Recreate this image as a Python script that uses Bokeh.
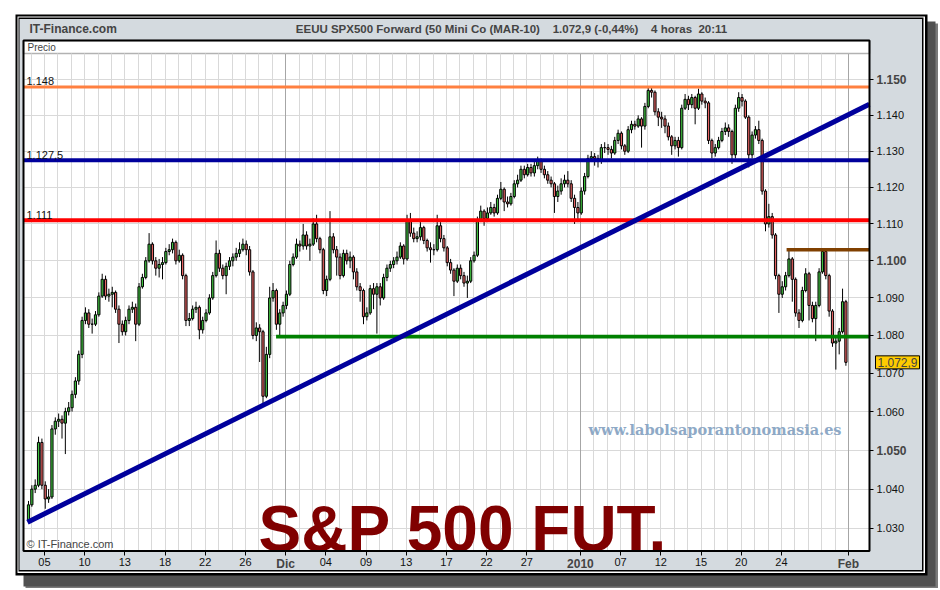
import math

import numpy as np
from bokeh.embed import file_html
from bokeh.models import BoxAnnotation, ColumnDataSource, FixedTicker, Grid, Label, Range1d
from bokeh.plotting import figure
from bokeh.resources import INLINE

FONT = "Liberation Sans"
UP = "#3fbf3f"
DOWN = "#e36161"
NAVY = "#00009c"
PANEL = "#d4dadf"

# ── 4-hour bars, S&P 500 mini future (MAR-10), Nov 2009 - Feb 2010 ──
first_open = 1032
closes = [
    1036, 1040, 1041, 1052, 1041, 1037.5, 1038, 1055.5, 1057.5, 1058,
    1057, 1060, 1061, 1064.5, 1068, 1075, 1084, 1086, 1083, 1083,
    1085.5, 1090.5, 1095, 1090.5, 1091, 1091.5, 1087, 1083, 1081, 1084,
    1087, 1087.5, 1083, 1093, 1095.5, 1100, 1104.5, 1100, 1098, 1099,
    1099.5, 1102.5, 1103, 1105, 1100, 1101.5, 1096, 1084, 1084.5, 1087,
    1087.5, 1081.5, 1084, 1086, 1090, 1096, 1102, 1098, 1096, 1098.5,
    1100, 1101, 1102, 1103, 1104.5, 1103, 1097, 1080, 1082, 1081,
    1064, 1075, 1090, 1092, 1083, 1086, 1088, 1091, 1099, 1101,
    1104.5, 1104, 1107, 1104, 1104.5, 1110, 1106, 1103, 1092, 1095,
    1106.5, 1103, 1101, 1096, 1102, 1100, 1101, 1097, 1093, 1092,
    1085, 1086, 1092.5, 1091, 1093, 1090, 1095.5, 1098, 1099, 1100,
    1101, 1104, 1100.5, 1111, 1107.5, 1106, 1106.5, 1109, 1105.5, 1103.5,
    1103, 1103, 1109.5, 1106, 1103.5, 1099.5, 1097.5, 1094.5, 1098, 1096,
    1094, 1094.5, 1100, 1101.5, 1111, 1113.5, 1111.5, 1113, 1114.5, 1113,
    1117, 1119.5, 1116, 1115.5, 1117.5, 1121, 1122, 1125, 1123.5, 1125.5,
    1124, 1126, 1127.5, 1125, 1123.5, 1122, 1121, 1117.5, 1119, 1121,
    1122, 1121, 1117, 1114.5, 1113, 1119, 1123, 1128, 1128.5, 1128,
    1127.5, 1131, 1131, 1130.5, 1129.5, 1133, 1135, 1131.5, 1130, 1136,
    1137.5, 1137, 1139, 1137, 1142.5, 1147, 1146.5, 1141, 1139.5, 1139,
    1137, 1134, 1131.5, 1133, 1131, 1142, 1144.5, 1143, 1145, 1142,
    1146, 1144, 1143.5, 1133, 1129.5, 1131, 1133, 1135.5, 1136.5, 1135.5,
    1129, 1142, 1145, 1144, 1139.5, 1129, 1134.5, 1136, 1133, 1119,
    1110, 1112, 1107, 1096, 1091, 1093, 1096, 1100.5, 1095, 1086,
    1084, 1092, 1096.5, 1088, 1084.5, 1088, 1097, 1102.5, 1096, 1086.5,
    1078, 1078.5, 1081, 1089, 1072.9,
]
highs = [
    1037, 1041, 1042.5, 1053.5, 1053, 1042, 1040, 1056.5, 1058.5, 1059.5,
    1059, 1061, 1062.5, 1065.5, 1069, 1076, 1085, 1087.5, 1087, 1084.5,
    1086.5, 1091.5, 1096.5, 1096, 1092.5, 1093, 1092, 1088, 1084, 1085,
    1088, 1089, 1088.5, 1094, 1096.5, 1101, 1107.5, 1105, 1101, 1100.5,
    1101, 1103.5, 1104.5, 1106, 1105.5, 1103, 1102, 1096.5, 1086, 1088,
    1089, 1088, 1085, 1087, 1091, 1097, 1105.5, 1103, 1099, 1099.5,
    1101, 1102, 1103.5, 1105, 1106, 1105.5, 1104, 1097.5, 1083.5, 1083,
    1081.5, 1077, 1093, 1094, 1092.5, 1087, 1089, 1092, 1100, 1102,
    1106, 1105.5, 1110, 1108, 1106, 1111.5, 1112.5, 1106.5, 1103.5, 1096,
    1113.5, 1107.5, 1104, 1102, 1103, 1103, 1102.5, 1101.5, 1098, 1094,
    1092.5, 1087.5, 1093.5, 1094, 1094, 1094, 1096.5, 1099, 1100, 1101,
    1102.5, 1105, 1104.5, 1112.5, 1113, 1109, 1108, 1110.5, 1109.5, 1106,
    1105, 1104.5, 1112.5, 1110.5, 1107, 1104, 1100.5, 1098, 1099, 1099,
    1097, 1096, 1101, 1102.5, 1112, 1115, 1114, 1114.5, 1116, 1115.5,
    1118, 1121.5, 1120, 1117.5, 1118.5, 1122, 1123.5, 1126, 1126, 1126.5,
    1126.5, 1127, 1128.5, 1128, 1126, 1124.5, 1123, 1121.5, 1120.5, 1122.5,
    1123.5, 1124.5, 1122, 1118, 1116, 1120, 1124, 1129, 1130, 1129.5,
    1129, 1132, 1132.5, 1132, 1131.5, 1134, 1136, 1135.5, 1132, 1137,
    1138.5, 1138.5, 1140, 1139.5, 1143.5, 1148, 1148, 1147, 1142, 1141,
    1140, 1138, 1134.5, 1134, 1134, 1143, 1146, 1145.5, 1146, 1145.5,
    1147.5, 1146.5, 1145, 1144, 1133.5, 1132, 1134, 1136.5, 1138, 1137.5,
    1136, 1143, 1146.5, 1146, 1144.5, 1140, 1135.5, 1137, 1138.5, 1133.5,
    1119.5, 1115.5, 1113, 1107.5, 1096.5, 1094.5, 1097, 1103, 1101, 1095.5,
    1087, 1093, 1098, 1097, 1089, 1089, 1098, 1103, 1103, 1096.5,
    1087, 1080, 1082, 1092.5, 1089.5,
]
lows = [
    1031.5, 1035.5, 1039, 1040.5, 1040, 1035, 1036.5, 1037.5, 1054, 1056,
    1053, 1049, 1059, 1060, 1063.5, 1067, 1074, 1083, 1082, 1080.5,
    1082.5, 1085, 1090, 1089.5, 1089, 1087.5, 1086, 1078, 1080, 1080,
    1083, 1086, 1078.5, 1082.5, 1092.5, 1095, 1099.5, 1099, 1096, 1095.5,
    1095, 1099, 1101.5, 1102, 1099, 1099.5, 1095, 1082.5, 1082.5, 1084,
    1086, 1079, 1080.5, 1083.5, 1085.5, 1089.5, 1095.5, 1097, 1095, 1091,
    1097.5, 1098.5, 1100, 1101, 1102.5, 1101.5, 1096, 1079, 1078.5, 1073,
    1062, 1063.5, 1074, 1089, 1081.5, 1080, 1085, 1087, 1090.5, 1098.5,
    1100.5, 1102.5, 1103, 1103, 1100, 1104, 1105, 1102, 1091, 1090.5,
    1094.5, 1102, 1096, 1095, 1095.5, 1099, 1098, 1095, 1092, 1089,
    1083, 1084, 1085.5, 1087, 1080.5, 1088, 1089.5, 1094.5, 1097, 1098,
    1099, 1100.5, 1099, 1100, 1106.5, 1105, 1105, 1105.5, 1104.5, 1102.5,
    1099.5, 1101.5, 1102.5, 1105, 1102.5, 1098.5, 1096.5, 1090.5, 1094, 1095,
    1093, 1090, 1094, 1099.5, 1101, 1110.5, 1109.5, 1110.5, 1112.5, 1112,
    1112.5, 1116.5, 1113.5, 1114.5, 1115, 1117, 1120, 1121.5, 1122.5, 1123,
    1123, 1123, 1125, 1124, 1122.5, 1121, 1120, 1113, 1116, 1118,
    1120, 1120, 1116, 1110, 1110.5, 1112.5, 1118, 1122.5, 1127, 1126,
    1125.5, 1126.5, 1129.5, 1129, 1128, 1129, 1132, 1130.5, 1129, 1129.5,
    1135, 1136, 1136.5, 1131, 1136, 1142, 1145, 1140, 1137, 1136.5,
    1135, 1133, 1129, 1130.5, 1128.5, 1130.5, 1141.5, 1141.5, 1142, 1137.5,
    1141.5, 1143, 1142, 1132, 1128, 1128.5, 1130.5, 1132.5, 1134.5, 1134,
    1126.5, 1128, 1141, 1142.5, 1139, 1125.5, 1128, 1133.5, 1132, 1118,
    1108, 1109, 1106, 1095, 1086, 1090, 1092, 1095.5, 1089, 1085,
    1082, 1083.5, 1091.5, 1084, 1083.5, 1078.5, 1087.5, 1096.5, 1095, 1085,
    1077, 1071, 1075, 1080.5, 1072,
]

# price axis
y_ticks = [1030, 1040, 1050, 1060, 1070, 1080, 1090, 1100, 1110, 1120, 1130, 1140, 1150]
y_bold = [1050, 1100, 1150]

# time axis: one session every 4 bars, labels on some sessions
n_days = 62
date_days = [1, 4, 7, 10, 13, 16, 19, 22, 25, 28, 31, 34, 37, 41, 44, 47, 50, 53, 56, 61]
date_labels = ["05", "10", "13", "18", "22", "26", "Dic", "04", "09", "13",
               "17", "22", "27", "2010", "07", "12", "15", "20", "24", "Feb"]
month_labels = ["Dic", "2010", "Feb"]

# drawn levels
levels = [1148, 1127.5, 1111]
level_names = ["1.148", "1.127,5", "1.111"]
level_colors = ["#ff8040", NAVY, "#ff0000"]
level_widths = [3, 4, 4]
support_start, support_level = 73.9, 1079.7
ceiling_start, ceiling_level = 226.3, 1103
trend_x = [-0.3, 251.0]
trend_y = [1031.6, 1143.1]
last_price = 1072.9

# ── page geometry: window pixels <-> bar index / price (log) ──
FIG_W, FIG_H, PAGE0 = 938, 588, 0
BAR0_PX, BAR_PX = 28.0, 3.35
REF_PX, REF_PRICE, PX_PER_LN = 79.3, 1150.0, 4071.5


def dx(px):
    return (px - BAR0_PX) / BAR_PX


def dp(py):
    return REF_PRICE * math.exp(-(py - REF_PX) / PX_PER_LN)


def fmt_price(v):
    return "1." + "%03d" % (v - 1000)


X_LO, X_HI = dx(23), dx(869)
P_LO, P_TOP, P_STRIP = dp(550.5), dp(40), dp(53)

p = figure(
    width=FIG_W, height=FIG_H,
    title=None,
    y_axis_type="log", y_axis_location="right",
    x_range=Range1d(dx(PAGE0), dx(PAGE0 + FIG_W)),
    y_range=Range1d(dp(PAGE0 + FIG_H), dp(PAGE0)),
    output_backend="svg", toolbar_location=None,
    min_border=0, outline_line_color=None,
    background_fill_color="white", border_fill_color="white",
)


def box(l, r, t, b, fill, line=None, lw=1, level="image"):
    p.add_layout(BoxAnnotation(left=dx(l), right=dx(r), top=dp(t), bottom=dp(b),
                               fill_color=fill, fill_alpha=1, line_color=line,
                               line_width=lw, level=level))


# ── frame: shadow, double black border, grey panel, white pane ──
box(27, 942, 25, 592, "#c8c8c8")
box(25, 938, 23, 589, "#7a7a7a")
box(23, 935, 21, 586, "#505050")
box(15, 927, 14, 575, "black")
box(17, 924.5, 16, 572.5, "white")
box(18, 923, 17, 571, "black")
box(19, 921.5, 18.5, 569.5, PANEL)
box(23, 869, 40, 550.5, "white")
box(23, 869, 40, 53, "white", line="black", lw=1.5)

# ── grid, only inside the pane ──
day_x = [0.75 + 4 * d for d in range(n_days)]
month_x = [day_x[d] for lab, d in zip(date_labels, date_days) if lab in month_labels]
p.xgrid.ticker = FixedTicker(ticks=day_x)
p.xgrid.cross_bounds = (P_LO, P_STRIP)
p.ygrid.ticker = FixedTicker(ticks=y_ticks)
p.ygrid.cross_bounds = (X_LO, X_HI)
p.grid.grid_line_color = "#d9d9d9"
p.add_layout(Grid(dimension=0, ticker=FixedTicker(ticks=month_x), cross_bounds=(P_LO, P_STRIP),
                  grid_line_color="#a6a6a6"), "center")

# ── axes pinned to the pane edges ──
p.yaxis.fixed_location = X_HI
p.yaxis.bounds = (P_LO, P_TOP)
p.xaxis.fixed_location = P_LO
p.xaxis.bounds = (X_LO, X_HI)
p.yaxis.ticker = FixedTicker(ticks=y_ticks)
p.yaxis.major_label_overrides = {t: ("" if t in y_bold else fmt_price(t)) for t in y_ticks}
p.xaxis.ticker = FixedTicker(ticks=[day_x[d] for d in date_days])
p.xaxis.major_label_overrides = {day_x[d]: ("" if lab in month_labels else lab)
                                 for lab, d in zip(date_labels, date_days)}
for ax in (p.xaxis, p.yaxis):
    ax.major_label_text_font = FONT
    ax.major_label_text_font_size = "11px"
    ax.major_label_text_color = "#111111"
    ax.major_tick_in = 0
    ax.major_tick_out = 4
    ax.major_tick_line_color = "black"
    ax.minor_tick_line_color = None
    ax.axis_line_color = None
p.yaxis.major_label_standoff = 3
p.xaxis.major_label_standoff = 3

for t in y_bold:
    p.add_layout(Label(x=dx(876), y=t, text=fmt_price(t), text_font=FONT,
                       text_font_size="12px", text_font_style="bold", text_baseline="middle"))
for lab, d in zip(date_labels, date_days):
    if lab in month_labels:
        p.add_layout(Label(x=day_x[d], y=dp(563), text=lab, text_font=FONT,
                           text_font_size="12px", text_font_style="bold",
                           text_align="center", text_baseline="middle"))

# ── candles ──
opens = [first_open] + closes[:-1]
o = np.array(opens, dtype=float)
c = np.array(closes, dtype=float)
src = ColumnDataSource(dict(
    x=np.arange(len(closes)), high=highs, low=lows,
    top=np.maximum(o, c), bottom=np.minimum(o, c),
    color=np.where(c >= o, UP, DOWN),
))
p.segment("x", "high", "x", "low", source=src, line_color="black", line_width=1)
p.vbar(x="x", width=0.66, top="top", bottom="bottom", source=src,
       fill_color="color", line_color="black", line_width=1)

# ── drawn lines ──
for lvl, name, col, w in zip(levels, level_names, level_colors, level_widths):
    p.segment(x0=[X_LO], y0=[lvl], x1=[X_HI], y1=[lvl], line_color=col, line_width=w)
    p.add_layout(Label(x=dx(26), y=lvl, y_offset=1.5, text=name, text_font=FONT,
                       text_font_size="11px", text_baseline="bottom", text_color="#111111"))
p.segment(x0=[support_start], y0=[support_level], x1=[X_HI], y1=[support_level],
          line_color="#008000", line_width=3.6)
p.segment(x0=[ceiling_start], y0=[ceiling_level], x1=[X_HI], y1=[ceiling_level],
          line_color="#804000", line_width=3.6)
p.line(trend_x, trend_y, line_color=NAVY, line_width=5)

# pane border
p.add_layout(BoxAnnotation(left=X_LO, right=X_HI, top=P_TOP, bottom=P_LO, fill_alpha=0,
                           line_color="black", line_width=2, line_alpha=1, level="overlay"))

# ── header and texts ──
p.add_layout(Label(x=dx(27), y=dp(46.5), text="Precio", text_font=FONT,
                   text_font_size="10px", text_baseline="middle"))
p.add_layout(Label(x=dx(29), y=dp(28), text="IT-Finance.com", text_font=FONT,
                   text_font_size="12px", text_font_style="bold", text_baseline="middle"))
title = ("EEUU SPX500 Forward (50 Mini Co (MAR-10)\u00a0\u00a0\u00a0\u00a01.072,9 (-0,44%)"
         "\u00a0\u00a0\u00a0\u00a04 horas\u00a0\u00a020:11")
p.add_layout(Label(x=dx(511), y=dp(28), text=title, text_font=FONT,
                   text_font_size="11.5px", text_font_style="bold",
                   text_align="center", text_baseline="middle"))
p.add_layout(Label(x=dx(26), y=dp(543.5), text="\u00a9 IT-Finance.com",
                   text_font=FONT, text_font_size="11px", text_baseline="middle"))
p.add_layout(Label(x=dx(588), y=dp(428.5), text="www.labolsaporantonomasia.es",
                   text_font="DejaVu Serif", text_font_size="14.5px", text_font_style="bold",
                   text_color="#8ea9c6", text_baseline="middle"))
p.add_layout(Label(x=dx(258), y=dp(528.5), text="S&P 500 FUT.", text_font=FONT,
                   text_font_size="64px", text_font_style="bold",
                   text_color="#800000", text_baseline="alphabetic"))

# last price tag on the axis
p.add_layout(Label(x=dx(875), y=last_price, text="1.072,9", text_font=FONT,
                   text_font_size="12px", text_baseline="middle",
                   background_fill_color="#ffcc00", border_line_color="black",
                   border_line_width=1, padding=2))

open("out.html", "w").write(file_html(p, INLINE))
